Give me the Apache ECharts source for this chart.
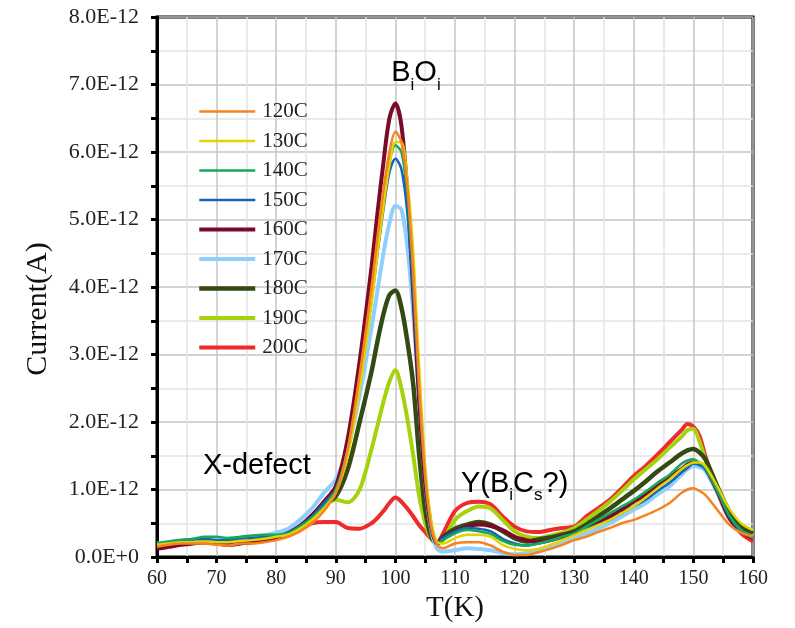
<!DOCTYPE html>
<html>
<head>
<meta charset="utf-8">
<script src="https://cdn.jsdelivr.net/npm/echarts@6/dist/echarts.min.js"></script>
<style>html,body{margin:0;padding:0;background:#fff;}#c{width:795px;height:628px;}</style>
</head>
<body>
<div id="c"></div>
<script>
// Temperature axis (K)
var T = [60,62,64,66,68,70,72,74,76,78,80,82,84,86,88,90,92,94,96,97,98,99,100,101,102,103,104,105,106,107,108,110,112,114,116,118,120,122,124,126,128,130,132,134,136,138,140,142,144,146,148,149,150,151,152,154,156,158,160];
// Currents in units of 1E-12 A
var s120 = [0.15,0.18,0.2,0.2,0.2,0.18,0.17,0.2,0.2,0.22,0.25,0.3,0.38,0.5,0.68,0.95,1.6,2.7,4.0,4.75,5.45,6.0,6.3,6.15,5.5,4.2,2.5,1.2,0.45,0.18,0.13,0.2,0.22,0.22,0.17,0.08,0.03,0.03,0.07,0.12,0.18,0.25,0.3,0.37,0.43,0.5,0.55,0.62,0.7,0.8,0.95,1.0,1.02,0.98,0.92,0.7,0.48,0.36,0.3];
var s130 = [0.18,0.2,0.22,0.22,0.23,0.22,0.22,0.24,0.25,0.27,0.3,0.33,0.42,0.55,0.72,0.95,1.5,2.5,3.75,4.5,5.2,5.8,6.15,6.15,5.6,4.5,2.8,1.35,0.55,0.22,0.2,0.28,0.33,0.33,0.3,0.18,0.12,0.1,0.12,0.18,0.25,0.32,0.4,0.47,0.55,0.65,0.75,0.88,1.02,1.15,1.3,1.36,1.4,1.4,1.35,1.05,0.72,0.5,0.4];
var s140 = [0.2,0.23,0.25,0.27,0.3,0.3,0.28,0.3,0.32,0.33,0.33,0.35,0.45,0.58,0.75,1.0,1.6,2.65,3.9,4.6,5.3,5.85,6.1,6.0,5.4,4.2,2.6,1.25,0.5,0.2,0.25,0.35,0.4,0.38,0.34,0.24,0.18,0.17,0.2,0.24,0.3,0.35,0.45,0.55,0.65,0.75,0.85,0.97,1.1,1.22,1.38,1.43,1.45,1.4,1.32,0.98,0.62,0.4,0.3];
var s150 = [0.2,0.22,0.25,0.26,0.27,0.25,0.25,0.27,0.28,0.3,0.32,0.36,0.46,0.6,0.8,1.0,1.6,2.6,3.8,4.5,5.15,5.7,5.9,5.75,5.1,3.9,2.4,1.15,0.45,0.2,0.28,0.38,0.43,0.42,0.38,0.27,0.2,0.17,0.2,0.25,0.3,0.35,0.42,0.48,0.55,0.65,0.75,0.85,0.98,1.1,1.25,1.32,1.38,1.36,1.3,1.0,0.6,0.38,0.28];
var s160 = [0.12,0.15,0.18,0.2,0.22,0.2,0.18,0.2,0.22,0.25,0.28,0.35,0.46,0.62,0.82,1.05,1.75,2.9,4.3,5.1,5.85,6.5,6.72,6.4,5.4,3.9,2.3,1.1,0.45,0.2,0.28,0.38,0.45,0.48,0.46,0.4,0.3,0.25,0.22,0.25,0.3,0.35,0.42,0.5,0.6,0.7,0.82,0.92,1.05,1.18,1.3,1.37,1.4,1.38,1.32,0.98,0.58,0.38,0.28];
var s170 = [0.2,0.22,0.25,0.25,0.26,0.26,0.27,0.28,0.3,0.32,0.36,0.42,0.55,0.72,0.95,1.15,1.6,2.4,3.4,3.95,4.5,4.95,5.2,5.15,4.6,3.6,2.3,1.1,0.4,0.12,0.08,0.1,0.13,0.12,0.1,0.06,0.04,0.06,0.1,0.15,0.2,0.27,0.35,0.42,0.5,0.6,0.7,0.8,0.93,1.05,1.22,1.3,1.35,1.33,1.28,0.95,0.58,0.38,0.3];
var s180 = [0.15,0.18,0.2,0.22,0.22,0.22,0.2,0.22,0.24,0.26,0.3,0.35,0.45,0.6,0.78,0.9,1.3,2.0,2.75,3.2,3.6,3.88,3.95,3.7,3.2,2.55,1.5,0.7,0.3,0.2,0.3,0.42,0.48,0.52,0.48,0.38,0.28,0.23,0.26,0.29,0.33,0.38,0.48,0.6,0.72,0.85,0.98,1.12,1.27,1.4,1.53,1.58,1.6,1.55,1.45,1.05,0.68,0.45,0.35];
var s190 = [0.18,0.2,0.22,0.24,0.25,0.25,0.25,0.26,0.27,0.3,0.32,0.36,0.45,0.58,0.75,0.85,0.81,1.0,1.6,1.95,2.3,2.6,2.77,2.5,2.05,1.5,0.9,0.5,0.27,0.2,0.25,0.55,0.68,0.75,0.72,0.55,0.38,0.3,0.28,0.32,0.36,0.43,0.55,0.68,0.82,0.98,1.15,1.3,1.45,1.62,1.78,1.88,1.9,1.72,1.45,1.0,0.62,0.42,0.33];
var s200 = [0.17,0.2,0.22,0.23,0.25,0.25,0.24,0.25,0.27,0.28,0.3,0.34,0.42,0.5,0.52,0.52,0.43,0.42,0.5,0.58,0.68,0.8,0.88,0.82,0.72,0.6,0.47,0.37,0.27,0.22,0.35,0.68,0.8,0.82,0.78,0.6,0.45,0.38,0.37,0.4,0.43,0.45,0.6,0.72,0.85,1.02,1.2,1.35,1.52,1.7,1.88,1.97,1.93,1.8,1.5,0.97,0.58,0.35,0.23];

var names = ['120C','130C','140C','150C','160C','170C','180C','190C','200C'];
var values = [s120,s130,s140,s150,s160,s170,s180,s190,s200];
var colors = ['#f7821f','#e3d400','#16a85a','#1565b5','#7b0a28','#8ecfff','#334a12','#a6d10d','#ee2a2a'];
var widths = [2.5,2.5,2.5,2.5,4,4,4.5,4,4];
var xTicks = [60,70,80,90,100,110,120,130,140,150,160];

var chart = echarts.init(document.getElementById('c'));
var series = [];
for (var i = names.length - 1; i >= 0; i--) {
  var d = T.map(function (t, k) { return [t, values[i][k]]; });
  series.push({
    name: names[i], type: 'line', data: d, symbol: 'none', smooth: 0.3,
    lineStyle: { color: colors[i], width: widths[i] },
    itemStyle: { color: colors[i] }
  });
}
var serif = 'Liberation Serif';
chart.setOption({
  animation: false,
  backgroundColor: '#fff',
  grid: { left: 157, right: 42, top: 17, bottom: 71, show: true, borderColor: '#000', borderWidth: 3, backgroundColor: 'transparent' },
  legend: {
    data: names, orient: 'vertical', left: 192, top: 96,
    itemWidth: 56, itemHeight: 14, itemGap: 8.5,
    itemStyle: { opacity: 0, borderWidth: 0 },
    lineStyle: { width: 'inherit' },
    textStyle: { fontFamily: serif, fontSize: 21, color: '#222', lineHeight: 20, padding: [0, 0, 0, 2] }
  },
  xAxis: {
    type: 'value', min: xTicks[0], max: xTicks[xTicks.length - 1], interval: 10,
    name: 'T(K)', nameLocation: 'middle', nameGap: 37,
    nameTextStyle: { fontFamily: serif, fontSize: 29, color: '#111' },
    axisLine: { lineStyle: { color: '#000', width: 3 } },
    axisTick: { inside: false, length: 6, lineStyle: { color: '#000', width: 3 } },
    minorTick: { show: true, splitNumber: 2, length: 6, lineStyle: { color: '#000', width: 3 } },
    axisLabel: { fontFamily: serif, fontSize: 20, color: '#222', margin: 12 },
    splitLine: { show: true, lineStyle: { color: '#c4c4c4', width: 1.5 } },
    minorSplitLine: { show: true, lineStyle: { color: '#e4e4e4', width: 1.5 } }
  },
  yAxis: {
    type: 'value', min: 0, max: 8, interval: 1,
    name: 'Current(A)', nameLocation: 'middle', nameGap: 104, nameRotate: 90,
    nameTextStyle: { fontFamily: serif, fontSize: 30, color: '#111', padding: [0, 44, 0, 0] },
    axisLine: { show: true, lineStyle: { color: '#000', width: 3 } },
    axisTick: { show: true, inside: false, length: 6, lineStyle: { color: '#000', width: 3 } },
    minorTick: { show: true, splitNumber: 2, length: 6, lineStyle: { color: '#000', width: 3 } },
    axisLabel: { fontFamily: serif, fontSize: 22, color: '#222', margin: 18,
      formatter: function (v) { return v === 0 ? '0.0E+0' : v.toFixed(1) + 'E-12'; } },
    splitLine: { show: true, lineStyle: { color: '#c4c4c4', width: 1.5 } },
    minorSplitLine: { show: true, lineStyle: { color: '#e4e4e4', width: 1.5 } }
  },
  series: series
});

// annotations anchored to data coordinates
var ann = [
  { at: [99.3, 7.38], text: '{a|B}{s|i}{a|O}{s|i}' },
  { at: [67.7, 1.56], text: '{a|X-defect}' },
  { at: [111.0, 1.3], text: '{a|Y(B}{s|i}{a|C}{s|s}{a|?)}' }
];
var rich = {
  a: { fontFamily: 'Liberation Sans', fontSize: 29, color: '#111', lineHeight: 34, verticalAlign: 'top' },
  s: { fontFamily: 'Liberation Sans', fontSize: 17, color: '#111', lineHeight: 58, verticalAlign: 'top', padding: [18, 0, 0, 0] }
};
var g = ann.map(function (a) {
  var p = chart.convertToPixel({ gridIndex: 0 }, a.at);
  return { type: 'text', x: p[0], y: p[1], z: 100, style: { text: a.text, rich: rich, textVerticalAlign: 'top' } };
});
chart.setOption({ graphic: g });
</script>
</body>
</html>
